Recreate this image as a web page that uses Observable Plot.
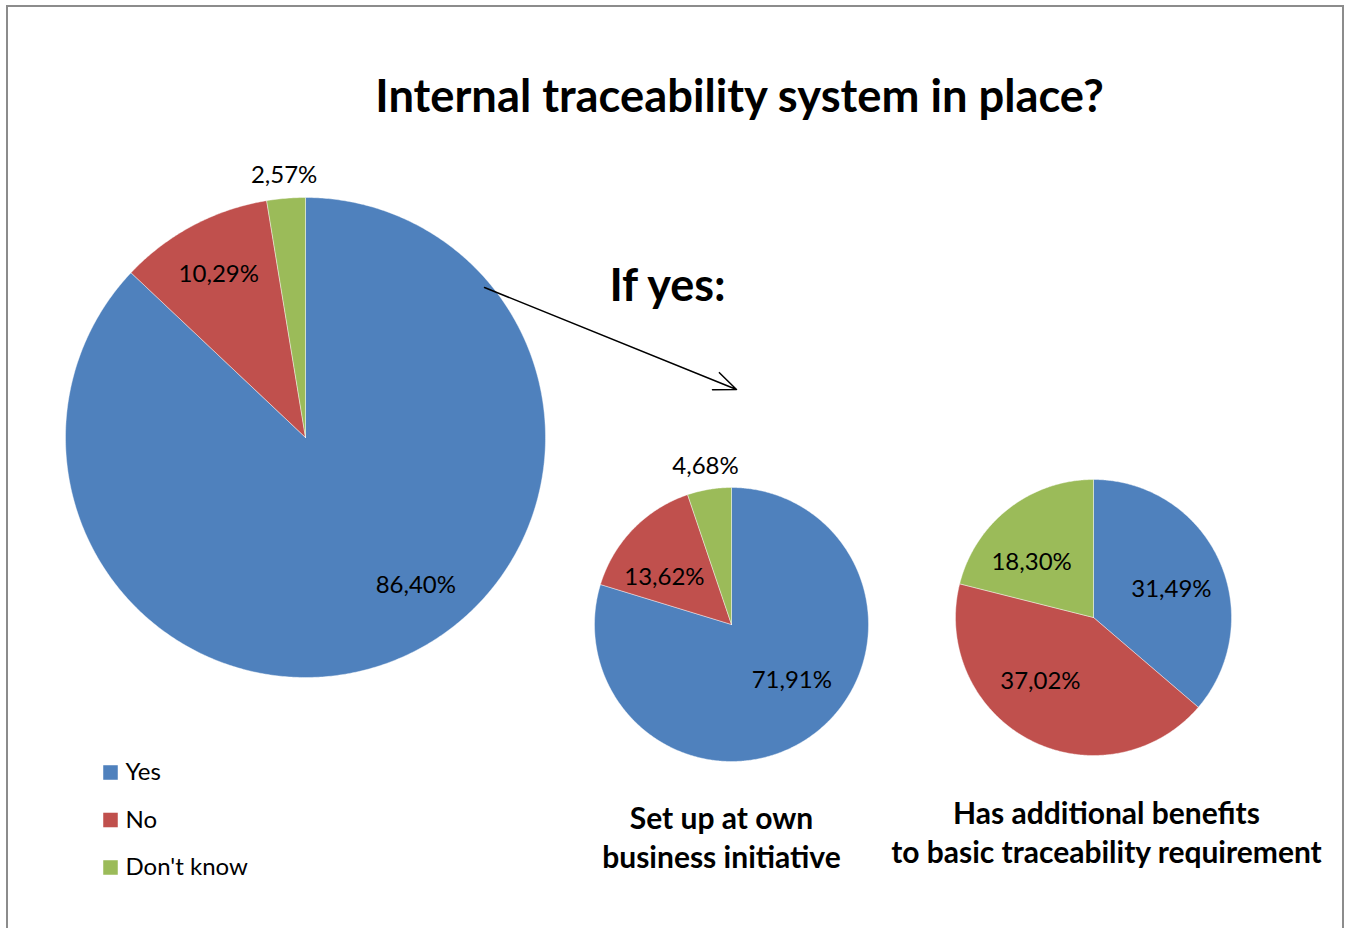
<!DOCTYPE html>
<html><head><meta charset="utf-8">
<script src="https://cdn.jsdelivr.net/npm/d3@7"></script>
<script src="https://cdn.jsdelivr.net/npm/@observablehq/plot@0.6"></script>
<style>
html,body{margin:0;padding:0;background:#fff;overflow:hidden}
#wrap{position:relative;width:1351px;height:928px}
#border{position:absolute;left:6px;top:5px;width:1338px;height:1000px;border:2px solid #8c8c8c;box-sizing:border-box;pointer-events:none}
</style></head><body><div id="wrap"><div id="chart"></div><div id="border"></div></div>
<script>
// ---- data ----
const categories = ["Yes", "No", "Don't know"];
const categoryColors = ["#4F81BD", "#C0504D", "#9BBB59"];
const inPlaceValues = [86.40, 10.29, 2.57];
const ownInitiativeValues = [71.91, 13.62, 4.68];
const additionalBenefitsValues = [31.49, 37.02, 18.30];
const titleText = "Internal traceability system in place?";
const subtitleText = "If yes:";
const ownInitiativeCaption = ["Set up at own", "business initiative"];
const additionalBenefitsCaption = ["Has additional benefits", "to basic traceability requirement"];

// ---- layout ----
const W = 1351, H = 928;
const pies = [
  {key: "inPlace", values: inPlaceValues, cx: 305, cy: 437, r: 240, inner: 0.77},
  {key: "own", values: ownInitiativeValues, cx: 731, cy: 624, r: 137, inner: 0.6},
  {key: "benefits", values: additionalBenefitsValues, cx: 1093, cy: 617, r: 138, inner: 0.6}
];
const fmt = v => v.toFixed(2).replace(".", ",") + "%";

const slicePts = [];
const labels = [];
for (const p of pies) {
  const total = d3.sum(p.values);
  let acc = 0;
  p.values.forEach((v, i) => {
    const a0 = acc / total * 2 * Math.PI;
    acc += v;
    const a1 = acc / total * 2 * Math.PI;
    const id = p.key + "-" + i;
    slicePts.push({id, cat: categories[i], x: p.cx, y: p.cy});
    const n = Math.max(2, Math.ceil((a1 - a0) / (Math.PI / 360)));
    for (let k = 0; k <= n; k++) {
      const a = a0 + (a1 - a0) * k / n;
      slicePts.push({id, cat: categories[i], x: p.cx + p.r * Math.sin(a), y: p.cy - p.r * Math.cos(a)});
    }
    slicePts.push({id, cat: categories[i], x: p.cx, y: p.cy});
    const am = (a0 + a1) / 2;
    const share = v / total;
    if (share < 0.06) {
      const rr = p.r + 23;
      labels.push({text: fmt(v), x: p.cx + rr * Math.sin(am), y: p.cy - rr * Math.cos(am)});
    } else {
      // best-fit style: inside; wide slices pulled slightly toward the horizontal
      const rr = p.r * p.inner;
      const k = share >= 0.12 ? 0.8 : 1;
      const sx = Math.sin(am) >= 0 ? 1 : -1;
      const e = Math.atan2(Math.cos(am), Math.abs(Math.sin(am))) * k;
      labels.push({text: fmt(v), x: p.cx + sx * rr * Math.cos(e), y: p.cy - rr * Math.sin(e)});
    }
  });
}

const legendRows = categories.map((c, i) => ({cat: c, x: 110, y: 772 + i * 47.5}));
const captionRows = [
  ...ownInitiativeCaption.map((t, i) => ({text: t, x: 721, y: 819 + i * 38.5})),
  ...additionalBenefitsCaption.map((t, i) => ({text: t, x: 1106, y: 814 + i * 39}))
];

const chart = Plot.plot({
  width: W, height: H,
  margin: 0,
  style: {fontFamily: "Lato, 'Open Sans', sans-serif", background: "transparent", overflow: "visible"},
  x: {domain: [0, W], range: [0, W], axis: null},
  y: {domain: [0, H], range: [0, H], axis: null},
  color: {domain: categories, range: categoryColors},
  marks: [
    Plot.line(slicePts, {x: "x", y: "y", z: "id", fill: "cat", stroke: "white", strokeWidth: 0.6, strokeOpacity: 0.7, curve: "linear"}),
    Plot.text(labels, {x: "x", y: "y", text: "text", fontSize: 24, fill: "black"}),
    Plot.text([titleText], {x: () => 739, y: () => 97, text: d => d, fontSize: 45.3, fontWeight: "bold", fill: "black"}),
    Plot.text([subtitleText], {x: () => 667, y: () => 286, text: d => d, fontSize: 45, fontWeight: "bold", fill: "black"}),
    Plot.arrow([{x1: 484, y1: 287, x2: 736, y2: 389}], {x1: "x1", y1: "y1", x2: "x2", y2: "y2", stroke: "black", strokeWidth: 1.5, headLength: 24, headAngle: 45, bend: 0, insetStart: 0, insetEnd: 0}),
    Plot.dot(legendRows, {x: "x", y: "y", fill: "cat", symbol: "square", r: 8.2, stroke: null}),
    Plot.text(legendRows, {x: d => d.x + 15, y: "y", text: "cat", textAnchor: "start", fontSize: 24, fill: "black"}),
    Plot.text(captionRows, {x: "x", y: "y", text: "text", fontSize: 30, fontWeight: "bold", fill: "black"})
  ]
});
document.getElementById("chart").appendChild(chart);
</script>
</body></html>
